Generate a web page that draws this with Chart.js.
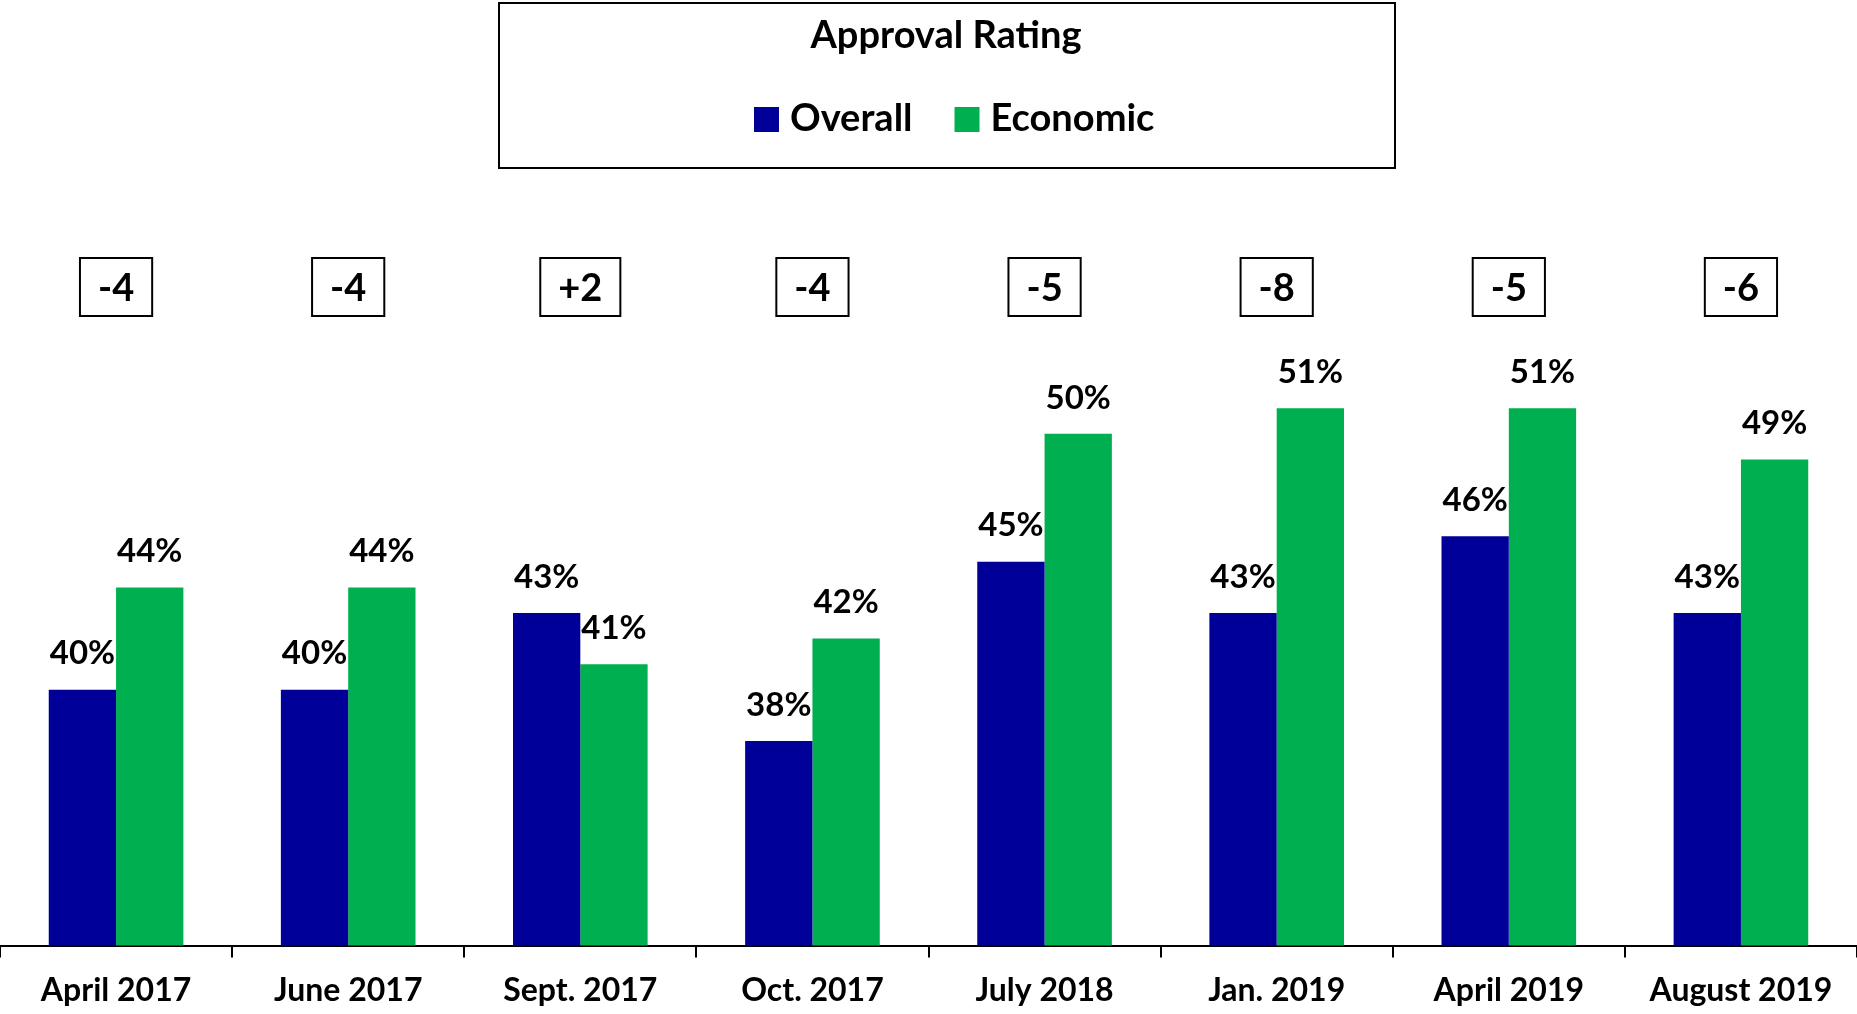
<!DOCTYPE html>
<html>
<head>
<meta charset="utf-8">
<script src="https://cdn.jsdelivr.net/npm/chart.js@4/dist/chart.umd.min.js"></script>
<style>
  html, body { margin: 0; padding: 0; background: #fff; }
  canvas { display: block; }
</style>
</head>
<body>
<canvas id="approvalChart" width="1857" height="1014"></canvas>
<script>
// ------------------------------------------------------------------
//  Data
// ------------------------------------------------------------------
const categories = ['April 2017', 'June 2017', 'Sept. 2017', 'Oct. 2017',
                    'July 2018', 'Jan. 2019', 'April 2019', 'August 2019'];
const overall  = [40, 40, 43, 38, 45, 43, 46, 43];
const economic = [44, 44, 41, 42, 50, 51, 51, 49];
const diffLabels = ['-4', '-4', '+2', '-4', '-5', '-8', '-5', '-6'];
const chartTitle = 'Approval Rating';

const FONT = 'Lato, "Open Sans", sans-serif';

// ------------------------------------------------------------------
//  Boxed title + legend at the top
// ------------------------------------------------------------------
const headerBox = {
    id: 'headerBox',
    afterDraw(chart) {
        const ctx = chart.ctx;
        ctx.save();
        ctx.strokeStyle = '#000';
        ctx.lineWidth = 2;
        ctx.strokeRect(499, 3, 896, 165);

        ctx.fillStyle = '#000';
        ctx.textAlign = 'center';
        ctx.textBaseline = 'middle';
        ctx.font = 'bold 38px ' + FONT;
        ctx.fillText(chartTitle, 946, 36);

        // legend items
        ctx.textAlign = 'left';
        let x = 754;
        chart.data.datasets.forEach((ds, i) => {
            ctx.fillStyle = ds.backgroundColor;
            ctx.fillRect(x, 107, 25, 25);
            ctx.fillStyle = '#000';
            ctx.fillText(ds.label, x + 36, 119);
            x += 36 + ctx.measureText(ds.label).width + 42;
        });
        ctx.restore();
    }
};

// ------------------------------------------------------------------
//  Value labels above bars + difference boxes
// ------------------------------------------------------------------
const barLabels = {
    id: 'barLabels',
    afterDatasetsDraw(chart) {
        const ctx = chart.ctx;
        ctx.save();
        ctx.fillStyle = '#000';
        ctx.textAlign = 'center';
        ctx.textBaseline = 'middle';
        ctx.font = 'bold 33px ' + FONT;
        chart.data.datasets.forEach((ds, di) => {
            chart.getDatasetMeta(di).data.forEach((bar, i) => {
                ctx.fillText(ds.data[i] + '%', bar.x, bar.y - 36);
            });
        });

        const xScale = chart.scales.x;
        ctx.font = 'bold 38px ' + FONT;
        diffLabels.forEach((txt, i) => {
            const cx = xScale.getPixelForValue(i);
            const w = Math.max(72, ctx.measureText(txt).width + 36);
            ctx.lineWidth = 2;
            ctx.strokeStyle = '#000';
            ctx.strokeRect(cx - w / 2, 258, w, 58);
            ctx.fillStyle = '#000';
            ctx.fillText(txt, cx, 289);
        });
        ctx.restore();
    }
};

new Chart(document.getElementById('approvalChart'), {
    type: 'bar',
    data: {
        labels: categories,
        datasets: [
            { label: 'Overall',  data: overall,  backgroundColor: '#000099' },
            { label: 'Economic', data: economic, backgroundColor: '#00B050' }
        ]
    },
    options: {
        responsive: false,
        animation: false,
        categoryPercentage: 0.58,
        barPercentage: 1.0,
        layout: { padding: { top: 178, left: 0, right: 0, bottom: -10 } },
        plugins: {
            legend: { display: false },
            title: { display: false },
            tooltip: { enabled: false }
        },
        scales: {
            y: {
                display: false,
                min: 30,
                max: 60
            },
            x: {
                grid: {
                    offset: true,
                    drawOnChartArea: false,
                    drawTicks: true,
                    tickLength: 12,
                    color: '#000',
                    lineWidth: 2
                },
                border: { display: true, color: '#000', width: 2 },
                ticks: {
                    color: '#000',
                    padding: 14,
                    maxRotation: 0,
                    font: { family: FONT, size: 32, weight: 'bold', lineHeight: 1.2 }
                }
            }
        }
    },
    plugins: [headerBox, barLabels]
});
</script>
</body>
</html>
